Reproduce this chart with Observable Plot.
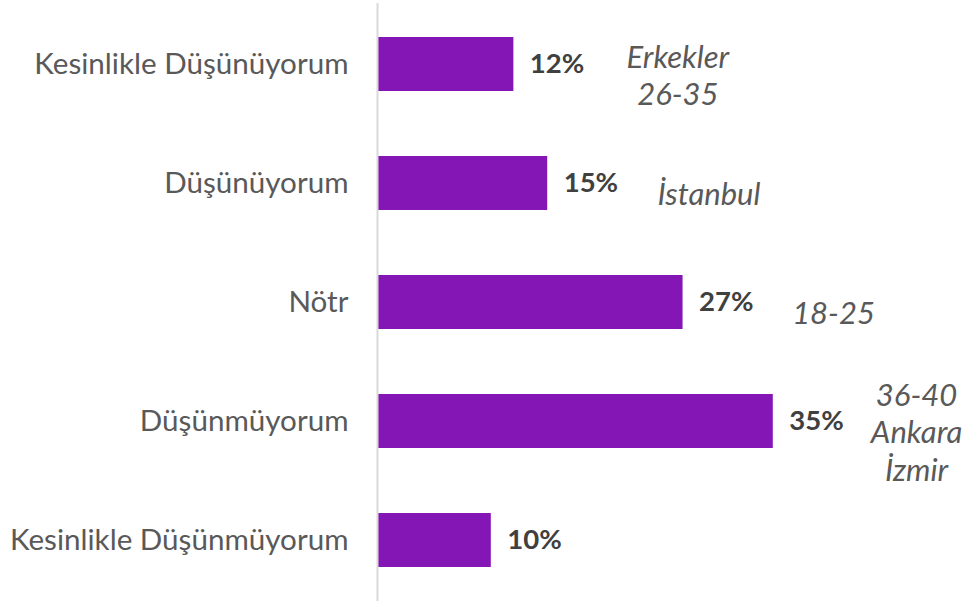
<!DOCTYPE html>
<html>
<head>
<meta charset="utf-8">
<script src="https://cdn.jsdelivr.net/npm/d3@7"></script>
<script src="https://cdn.jsdelivr.net/npm/@observablehq/plot@0.6"></script>
<style>
  html, body { margin: 0; padding: 0; background: #fff; }
  #chart svg { display: block; }
</style>
</head>
<body>
<div id="chart"></div>
<script>
const categories = ["Kesinlikle Düşünüyorum", "Düşünüyorum", "Nötr", "Düşünmüyorum", "Kesinlikle Düşünmüyorum"];
const values = [12, 15, 27, 35, 10];
const notes = ["Erkekler\n26-35", "İstanbul", "18-25", "36-40\nAnkara\nİzmir", ""];

const data = categories.map((c, i) => ({category: c, value: values[i], note: notes[i]}));

const chart = Plot.plot({
  width: 963,
  height: 602,
  marginLeft: 378,
  marginRight: 21,
  marginTop: 3,
  marginBottom: 1,
  style: {fontFamily: "Lato, 'Open Sans', sans-serif", background: "#fff"},
  x: {domain: [0, 50], axis: null},
  y: {domain: categories, paddingInner: 0.55, paddingOuter: 0.275, label: null},
  marks: [
    Plot.barX(data, {x: "value", y: "category", fill: "#8316B4"}),
    Plot.ruleX([0], {stroke: "#d9d9d9", strokeWidth: 2, dx: -1}),
    Plot.axisY({tickSize: 0, tickPadding: 30, fontSize: 29.6, color: "#595959", label: null}),
    Plot.text(data, {x: "value", y: "category", text: d => d.value + "%", textAnchor: "start", dx: 16, fontSize: 27.5, fontWeight: "bold", fill: "#404040"}),
    Plot.text(data, {x: d => 0.92 * d.value + 15.5, y: "category", text: "note", textAnchor: "middle", dy: 10, fontSize: 31, fontStyle: "italic", fill: "#595959", lineHeight: 1.2})
  ]
});
document.getElementById("chart").append(chart);
</script>
</body>
</html>
